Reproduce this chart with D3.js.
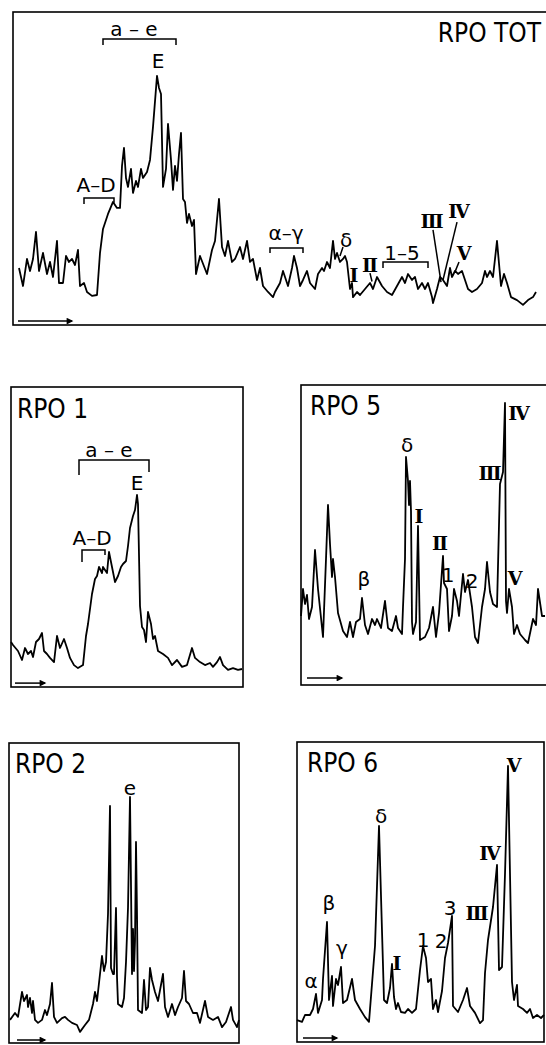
<!DOCTYPE html>
<html>
<head>
<meta charset="utf-8">
<script src="https://cdn.jsdelivr.net/npm/d3@7"></script>
<style>
  body { margin: 0; background: #fff; }
  svg { display: block; }
  .trace { fill: none; stroke: #000; stroke-width: 1.8; stroke-linejoin: round; }
  .box { fill: none; stroke: #000; stroke-width: 1.6; }
  .mark { fill: none; stroke: #000; stroke-width: 1.5; }
  .title { font-family: "DejaVu Sans Condensed", "DejaVu Sans", sans-serif; font-size: 26px; }
  .lbl { font-family: "DejaVu Sans", sans-serif; font-size: 20px; }
  .rom { font-family: "DejaVu Serif", serif; font-size: 19px; font-weight: bold; }
</style>
</head>
<body>
<script>
'use strict';

// densitometer scans, [scan position, absorbance] in arbitrary units
var totTrace = [[3,19],[5,13],[7,22],[8.5,18],[10,22],[11.5,31],[13,18],[15,24],[17,17],[18.5,21],[20,16],
  [22,28],[23,14],[25,14],[26.5,23],[28,21],[29.5,22],[31,20],[32.5,25],[33.5,13],[35.5,14],[37,11],
  [39.5,9.7],[42,10],[43.5,24],[45,32],[47.5,37],[50,41],[52,39],[53.5,39],[54.5,53],[55.5,59],[56.5,49],
  [57.5,46],[59,52],[60,44],[61.5,48],[62.5,46],[64,52],[65,49],[67,51],[68.5,55],[70,66],[72,83],
  [73,79],[74,77],[75,46],[76.5,52],[77.5,67],[79,55],[80,45],[81,53],[82,48],[83,57],[84,64],[85,42],
  [86,41],[87,34],[88,37],[89.5,33],[90.5,35],[91.5,17],[93.5,23],[97,17],[99.5,25],[101,28],[103,42],
  [104.5,26],[106,23],[107.5,28],[109.5,21],[111,22],[113.5,26],[115,22],[117,28],[118.5,21],[120,22],
  [122,15],[123.5,19],[125,13],[127.5,11],[130,9.3],[131,11],[133.5,14],[135,18],[136.5,15],[137.5,13],
  [139.5,19],[140.5,23],[142,19],[143.5,13],[145,15],[147,18],[148.5,14],[151,12],[152.5,17],[154.5,19],
  [155.5,18],[157,21],[158.5,19],[160,28],[161,22],[162,24],[163.5,21],[165,22],[166,23],[167,21],
  [168.5,12],[169.5,14],[170,9.3],[172,11],[173.5,10],[176,12],[178.5,14],[180,12],[182,16],[184.5,13],
  [187,11],[189.5,10],[192,13],[194.5,16],[196,14],[197.5,17],[199.5,15],[201,16],[202.5,12],[204.5,14],
  [206,12],[207.5,14],[209.5,9.3],[210,7.3],[212,12],[213.5,16],[215,15],[217,13],[218.5,19],[219.5,16],
  [221,18],[222.5,17],[224.5,18],[226,15],[227.5,12],[229.5,11],[232,12],[234.5,14],[236,18],[237,16],
  [238.5,18],[240,16],[242,28],[244,13],[245.5,17],[247,14],[249,9.3],[252,8.3],[255,6.7],[257.5,8.3],
  [260,9.3],[261.5,11]];

var rpo1Trace = [[0,15],[1,14],[3.5,12],[5.5,9],[7,13],[8.5,11],[10,12],[11,10],[12.5,15],[14,16],[15.5,18],
  [16.5,12],[18,11],[19.5,9.7],[21.5,8.3],[23,17],[24.5,13],[26.5,16],[28,13],[29.5,9.7],[31.5,7.3],
  [33.5,6.3],[36,7.3],[37.5,17],[38.5,21],[40.5,31],[42,36],[43,37],[44,40],[45.5,38],[46,40],[48,38],
  [49,45],[50.5,40],[52,35],[53.5,37],[55,40],[56,41],[57.5,42],[58.5,47],[59.5,53],[61,57],[62,59],
  [63,64],[63.5,61],[64.5,27],[65.5,20],[66.5,19],[67.5,15],[68.5,25],[70,21],[71,16],[72,17],[73.5,12],
  [76,11],[78.5,9.7],[80.5,7.3],[83,9],[85.5,6.7],[88,7.3],[90.5,13],[92,9.7],[94.5,8.3],[97,7.3],
  [99.5,8],[101,6.7],[103,8.3],[104.5,10],[106,7.3],[108.5,5.7],[111,6.3],[113.5,5.7],[115.5,6]];

var rpo5Trace = [[0,23],[1,32],[2,27],[3,30],[4,22],[5.5,26],[7,45],[8.5,32],[11,16],[12.5,42],[13.5,60],
  [14.5,47],[15.5,36],[16,42],[17,36],[18.5,24],[21,18],[23,16],[24.5,21],[26,16],[27.5,21],[29.5,22],
  [30.5,29],[32,20],[33.5,17],[35.5,22],[37,20],[38,22],[40,19],[42,28],[43.5,19],[45.5,18],[47.5,23],
  [48.5,19],[50.5,17],[51,26],[52,42],[52.5,76],[53.5,68],[54,60],[54.5,68],[55,58],[55.5,21],[56,17],
  [57.5,21],[58.5,53],[59.5,15],[62,16],[64,19],[66,26],[67.5,16],[69,24],[71,43],[71.5,34],[73,32],
  [74,18],[75.5,23],[76.5,32],[78,28],[79,23],[81,37],[82,31],[83.5,35],[85.5,26],[87,16],[88.5,14],
  [90.5,26],[92,32],[93,41],[94.5,31],[96,27],[98,26],[99.5,67],[101,71],[102,94],[102.5,28],[103,24],
  [104,32],[105.5,26],[106.5,17],[108,20],[109.5,17],[112,15],[113.5,14],[116,22],[117.5,20],[118.5,32],
  [120.5,23],[122,23]];

var rpo2Trace = [[0.5,7.7],[3,10],[4.5,8.7],[6.5,17],[7.5,14],[9,16],[9.5,12],[10.5,15],[11.5,10],[12,14],
  [13,7.7],[14.5,6.7],[16.5,7.7],[18,11],[19,9.3],[20.5,13],[21.5,20],[22.5,8.7],[24,6.7],[26.5,8.3],
  [28,8.7],[29.5,7.7],[31.5,6.7],[34,6],[35.5,3.7],[38,6],[40,7.7],[42,13],[43,17],[44,14],[45.5,23],
  [46.5,29],[47.5,24],[48.5,27],[49.5,43],[50.5,79],[51,25],[52,23],[52.5,23],[53.5,45],[54,22],
  [54.5,13],[56.5,12],[57.5,15],[58.5,27],[59.5,45],[60.5,82],[61.5,23],[62,38],[62.5,24],[63,34],
  [63.5,67],[64,43],[64.5,11],[66.5,10],[67.5,21],[68.5,11],[69.5,12],[70.5,25],[71.5,21],[73,17],
  [74.5,14],[77,23],[78,12],[79.5,8.7],[81.5,13],[83,9.3],[84.5,12],[86.5,15],[87.5,24],[88.5,14],
  [90,13],[92,10],[94,10],[95.5,6.7],[98,14],[99.5,8.7],[102,7.7],[104.5,8.7],[106.5,5.3],[108.5,7],
  [111,12],[112,7.7],[114,5.3],[115,7.7]];

var rpo6Trace = [[0,7.3],[2.5,6.7],[4,9],[6.5,9],[8,11],[9.5,16],[10.5,9.7],[12.5,14],[13,21],[15,40],
  [16,14],[17.5,22],[18,12],[19.5,21],[20.5,19],[22,25],[23,13],[25,14],[27.5,21],[29,14],[31.5,11],
  [34,8.3],[36,6.7],[39,32],[41,72],[42.5,37],[43.5,14],[45,13],[46.5,18],[47.5,26],[48.5,15],[49.5,11],
  [50.5,13],[52,10],[54,9.7],[55.5,11],[57.5,9.7],[59.5,11],[61.5,24],[63,32],[64.5,28],[65.5,20],
  [67,21],[68,11],[69.5,14],[70.5,10],[72.5,17],[74,28],[75.5,33],[77.5,42],[78,12],[80.5,10],[83,14],
  [85,18],[86.5,12],[89,9.7],[91.5,6.3],[93,7.3],[94,23],[95.5,34],[98,45],[100,59],[101,24],[102.5,25],
  [104,56],[105.5,92],[107.5,20],[108.5,14],[110,19],[110.5,12],[113,11],[115,9.7],[116.5,11],[118,8],
  [120,9],[122,8],[123.5,9]];

// peak labels: text, position, anchor
var totLabels = [
  {t: 'RPO TOT', x: 264, y: 94.3, a: 'end', c: 'title'},
  {t: 'a – e', x: 60.5, y: 96.3}, {t: 'E', x: 72.5, y: 85.7}, {t: 'A–D', x: 41.5, y: 44.3},
  {t: 'α–γ', x: 136.5, y: 28.3}, {t: 'δ', x: 166.5, y: 26}, {t: 'Ⅰ', x: 170.5, y: 14.3},
  {t: 'Ⅱ', x: 178.5, y: 17.7}, {t: '1–5', x: 194.5, y: 21.7}, {t: 'Ⅲ', x: 209.5, y: 32.3},
  {t: 'Ⅳ', x: 223, y: 35.7}, {t: 'Ⅴ', x: 225.5, y: 21.7}];
var rpo1Labels = [
  {t: 'RPO 1', x: 3, y: 89.7, a: 'start', c: 'title'},
  {t: 'a – e', x: 49, y: 76.7}, {t: 'E', x: 63, y: 65.7}, {t: 'A–D', x: 40.5, y: 47.3}];
var rpo5Labels = [
  {t: 'RPO 5', x: 4.5, y: 90, a: 'start', c: 'title'},
  {t: 'δ', x: 53, y: 77.7}, {t: 'Ⅰ', x: 59, y: 54}, {t: 'Ⅱ', x: 69.5, y: 45}, {t: '1', x: 73.5, y: 34.3},
  {t: '2', x: 85.5, y: 32.3}, {t: 'β', x: 31.5, y: 33}, {t: 'Ⅲ', x: 94.5, y: 68.3},
  {t: 'Ⅳ', x: 109, y: 88.3}, {t: 'Ⅴ', x: 107, y: 33.3}];
var rpo2Labels = [
  {t: 'RPO 2', x: 3, y: 90, a: 'start', c: 'title'}, {t: 'e', x: 60.5, y: 82.7}];
var rpo6Labels = [
  {t: 'RPO 6', x: 5, y: 90, a: 'start', c: 'title'},
  {t: 'α', x: 7, y: 18}, {t: 'β', x: 16, y: 44}, {t: 'γ', x: 22.5, y: 29}, {t: 'δ', x: 42, y: 73},
  {t: 'Ⅰ', x: 50, y: 24}, {t: '1', x: 63, y: 31.7}, {t: '2', x: 72, y: 31.3}, {t: '3', x: 76.5, y: 42.3},
  {t: 'Ⅲ', x: 90, y: 40.7}, {t: 'Ⅳ', x: 96.5, y: 60.7}, {t: 'Ⅴ', x: 108.5, y: 90}];

// brackets: [x from, x to, level, left end, right end]
var totBrackets = [[45, 81.5, 95.3, 93.3, 93.3], [35.5, 50.5, 42.3, 40.3, 40.7],
  [128.5, 145, 25.7, 24, 24], [185, 207.5, 21, 19, 19]];
var rpo1Brackets = [[34, 69, 75.7, 70.7, 71.7], [35.5, 47, 45.7, 41.7, 44]];

// leader lines: [x1, y1, x2, y2]
var totLeaders = [[165, 26, 163.5, 23], [210, 31.7, 214, 14.3], [222, 34.3, 215, 15],
  [223, 21, 221, 17.7], [178.5, 17.3, 179.5, 14.5]];

// direction arrows: [x from, x to, level]
var totArrow = [2.5, 29.5, 1.3];
var rpo1Arrow = [2, 17, 1.3];
var rpo5Arrow = [3, 20.5, 2.3];
var rpo2Arrow = [4, 18, 1];
var rpo6Arrow = [3, 20, 1.3];

// panel frames on the page
var panels = [
  {left: 13, top: 12, right: 560, bottom: 325, xMax: 273.5, yMax: 104.3,
    trace: totTrace, labels: totLabels, brackets: totBrackets, leaders: totLeaders, arrow: totArrow},
  {left: 11, top: 387, right: 243, bottom: 687, xMax: 116, yMax: 100,
    trace: rpo1Trace, labels: rpo1Labels, brackets: rpo1Brackets, leaders: [], arrow: rpo1Arrow},
  {left: 301, top: 385, right: 560, bottom: 685, xMax: 129.5, yMax: 100,
    trace: rpo5Trace, labels: rpo5Labels, brackets: [], leaders: [], arrow: rpo5Arrow},
  {left: 9, top: 743, right: 239, bottom: 1043, xMax: 115, yMax: 100,
    trace: rpo2Trace, labels: rpo2Labels, brackets: [], leaders: [], arrow: rpo2Arrow},
  {left: 297, top: 742, right: 544, bottom: 1042, xMax: 123.5, yMax: 100,
    trace: rpo6Trace, labels: rpo6Labels, brackets: [], leaders: [], arrow: rpo6Arrow}
];

var svg = d3.select('body').append('svg')
    .attr('width', 546)
    .attr('height', 1045);

svg.append('defs').append('marker')
    .attr('id', 'head')
    .attr('viewBox', '0 0 10 10')
    .attr('refX', 8)
    .attr('refY', 5)
    .attr('markerWidth', 6)
    .attr('markerHeight', 4.5)
    .attr('orient', 'auto')
  .append('path')
    .attr('d', 'M0,0L10,5L0,10Z')
    .attr('fill', '#000');

panels.forEach(function (p) {
  var g = svg.append('g'),
      x = d3.scaleLinear().domain([0, p.xMax]).range([p.left, p.right]),
      y = d3.scaleLinear().domain([0, p.yMax]).range([p.bottom, p.top]),
      line = d3.line()
          .x(function (d) { return x(d[0]); })
          .y(function (d) { return y(d[1]); });

  g.append('rect')
      .attr('class', 'box')
      .attr('x', p.left)
      .attr('y', p.top)
      .attr('width', p.right - p.left)
      .attr('height', p.bottom - p.top);

  g.append('path')
      .datum(p.trace)
      .attr('class', 'trace')
      .attr('d', line);

  p.brackets.forEach(function (b) {
    g.append('path')
        .attr('class', 'mark')
        .attr('d', 'M' + x(b[0]) + ',' + y(b[3]) +
            'L' + x(b[0]) + ',' + y(b[2]) +
            'L' + x(b[1]) + ',' + y(b[2]) +
            'L' + x(b[1]) + ',' + y(b[4]));
  });

  p.leaders.forEach(function (l) {
    g.append('line')
        .attr('class', 'mark')
        .attr('x1', x(l[0])).attr('y1', y(l[1]))
        .attr('x2', x(l[2])).attr('y2', y(l[3]));
  });

  g.append('line')
      .attr('class', 'mark')
      .attr('x1', x(p.arrow[0])).attr('y1', y(p.arrow[2]))
      .attr('x2', x(p.arrow[1])).attr('y2', y(p.arrow[2]))
      .attr('marker-end', 'url(#head)');

  // roman numerals get the barred serif look of the original lettering
  g.selectAll('text.pk')
      .data(p.labels)
    .enter().append('text')
      .attr('class', function (d) {
        return 'pk ' + (d.c || (/[\u2160-\u2169]/.test(d.t) ? 'rom' : 'lbl'));
      })
      .attr('x', function (d) { return x(d.x); })
      .attr('y', function (d) { return y(d.y); })
      .attr('text-anchor', function (d) { return d.a || 'middle'; })
      .text(function (d) { return d.t; });
});
</script>
</body>
</html>
